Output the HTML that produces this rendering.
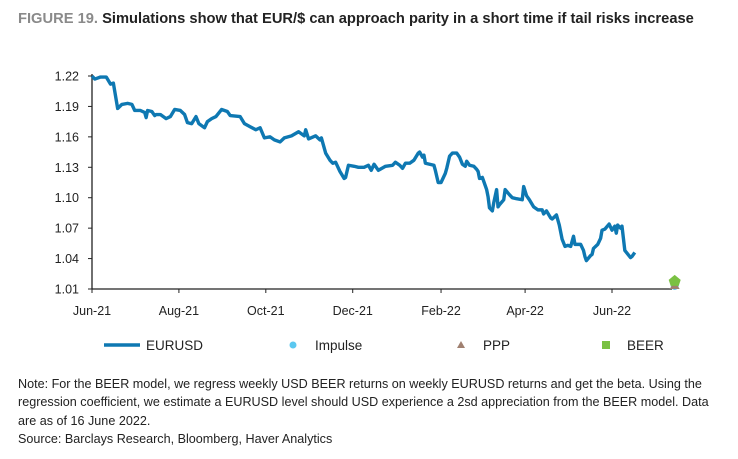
<!DOCTYPE html>
<html><head><meta charset="utf-8"><style>
body{margin:0;background:#fff;font-family:"Liberation Sans",sans-serif;}
#wrap{position:relative;width:738px;height:459px;overflow:hidden}
.title{position:absolute;left:18px;top:11px;font-size:14.7px;font-weight:bold;color:#222;white-space:nowrap}
.title span{color:#8a8a8a}
.note{position:absolute;left:18px;top:375px;font-size:12.6px;line-height:18.3px;color:#222;width:710px}
svg text{font-family:"Liberation Sans",sans-serif;font-size:12.5px;fill:#222}
</style></head><body>
<div id="wrap">
<div class="title"><span>FIGURE 19.</span> Simulations show that EUR/$ can approach parity in a short time if tail risks increase</div>
<svg id="chart" width="738" height="459" style="position:absolute;left:0;top:0"></svg>
<div class="note">Note: For the BEER model, we regress weekly USD BEER returns on weekly EURUSD returns and get the beta. Using the regression coefficient, we estimate a EURUSD level should USD experience a 2sd appreciation from the BEER model. Data are as of 16 June 2022.<br>Source: Barclays Research, Bloomberg, Haver Analytics</div>
</div>
<script>
const days=[0,2,6,10,13,15,18,21,25,28,30,34,37,38,39,42,44,45,48,52,55,58,62,65,67,70,73,75,79,81,84,87,91,95,97,104,107,111,115,118,121,125,128,132,135,140,145,149,150,152,157,160,161,164,167,169,171,174,177,178,180,184,187,191,194,196,198,201,206,211,213,216,218,220,223,226,229,230,232,233,234,237,240,241,243,245,248,249,251,253,256,257,258,260,262,263,265,268,270,271,272,274,275,277,278,279,281,282,284,285,286,289,290,293,295,298,302,303,305,307,310,313,316,317,319,322,323,326,328,330,332,334,336,338,339,341,343,345,346,347,350,351,352,355,357,358,360,363,365,367,368,369,371,372,374,378,379,381];
const eurusd=[1.220,1.217,1.219,1.219,1.212,1.213,1.188,1.192,1.193,1.192,1.186,1.186,1.184,1.179,1.186,1.185,1.181,1.182,1.182,1.178,1.180,1.187,1.186,1.182,1.174,1.173,1.180,1.173,1.169,1.175,1.178,1.180,1.187,1.185,1.181,1.180,1.173,1.170,1.167,1.169,1.159,1.160,1.157,1.155,1.159,1.161,1.165,1.161,1.167,1.158,1.161,1.157,1.159,1.144,1.137,1.134,1.135,1.126,1.119,1.120,1.132,1.131,1.130,1.130,1.132,1.127,1.133,1.127,1.131,1.132,1.135,1.132,1.129,1.134,1.134,1.137,1.144,1.145,1.140,1.142,1.134,1.133,1.132,1.127,1.115,1.115,1.124,1.129,1.141,1.144,1.144,1.142,1.140,1.133,1.131,1.136,1.132,1.131,1.128,1.126,1.119,1.120,1.116,1.108,1.101,1.090,1.087,1.095,1.108,1.091,1.093,1.098,1.108,1.103,1.100,1.099,1.098,1.111,1.102,1.098,1.091,1.088,1.088,1.084,1.087,1.080,1.079,1.083,1.073,1.059,1.052,1.053,1.052,1.062,1.054,1.054,1.054,1.048,1.042,1.038,1.043,1.044,1.050,1.054,1.060,1.068,1.069,1.074,1.068,1.072,1.065,1.073,1.070,1.072,1.048,1.041,1.042,1.046];
const modelDay=409;
const impulse=[1.013];
const ppp=[1.013];
const beer=[1.018];
const yTicks=[1.01,1.04,1.07,1.10,1.13,1.16,1.19,1.22];
const xTickLabels=["Jun-21","Aug-21","Oct-21","Dec-21","Feb-22","Apr-22","Jun-22"];
const xTickDays=[0,61,122,183,245,304,365];

const svg=document.getElementById('chart');const NS='http://www.w3.org/2000/svg';
const X0=92,PX=(612-92)/365,Y0=289,YT=76;
const xs=d=>X0+d*PX;
const ys=v=>Y0-(v-1.01)/(0.21)*(Y0-YT);
function mk(t,a){const e=document.createElementNS(NS,t);for(const k in a)e.setAttribute(k,a[k]);svg.appendChild(e);return e;}
let e=mk('line',{x1:X0,y1:YT-2,x2:X0,y2:Y0,stroke:'#222','stroke-width':1.3});


e=mk('line',{x1:X0,y1:Y0,x2:672,y2:Y0,stroke:'#222','stroke-width':1.3});


yTicks.forEach(v=>{
  const t=mk('line',{x1:X0-4,y1:ys(v),x2:X0,y2:ys(v),stroke:'#222','stroke-width':1});
  
  
  const l=mk('text',{x:X0-13,y:ys(v)+4.5,'text-anchor':'end'});l.textContent=v.toFixed(2);
  
  
});
xTickDays.forEach((d,i)=>{
  const t=mk('line',{x1:xs(d),y1:Y0,x2:xs(d),y2:Y0+4,stroke:'#222','stroke-width':1});
  
  
  const l=mk('text',{x:xs(d),y:Y0+26,'text-anchor':'middle'});l.textContent=xTickLabels[i];
  
  
});
const p=mk('polyline',{points:days.map((d,i)=>xs(d)+','+ys(eurusd[i])).join(' '),fill:'none',stroke:'#0e78b2','stroke-width':3.4,'stroke-linejoin':'round'});


const mx=xs(modelDay);
e=mk('circle',{cx:mx,cy:ys(impulse[0]),r:4,fill:'#5bc8f0'});


const py=ys(ppp[0]);
e=mk('polygon',{points:`${mx-5},${py+3} ${mx+5},${py+3} ${mx},${py-5}`,fill:'#a08070'});


const by=ys(beer[0]);
e=mk('polygon',{points:`${mx},${by-6} ${mx+6},${by-1} ${mx+4},${by+5} ${mx-4},${by+5} ${mx-6},${by-1}`,fill:'#7ac143'});


const LY=345;
e=mk('line',{x1:104,y1:LY,x2:140,y2:LY,stroke:'#0e78b2','stroke-width':3.5});


e=mk('circle',{cx:293,cy:LY,r:3.5,fill:'#5bc8f0'});


e=mk('polygon',{points:`457,${LY+3} 465,${LY+3} 461,${LY-4}`,fill:'#a08070'});


e=mk('rect',{x:602,y:LY-4,width:8,height:8,fill:'#7ac143'});


[["EURUSD",146],["Impulse",315],["PPP",483],["BEER",627]].forEach(a=>{
  const t=mk('text',{x:a[1],y:LY+5});t.textContent=a[0];t.style.fontSize='13.5px';
  
  
});
</script>
</body></html>
